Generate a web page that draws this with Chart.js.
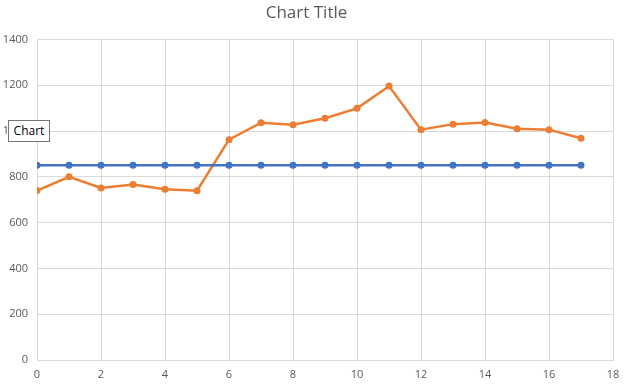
<!DOCTYPE html>
<html>
<head>
<meta charset="utf-8">
<script src="https://cdn.jsdelivr.net/npm/chart.js@4.4.1/dist/chart.umd.min.js"></script>
<style>
  html, body { margin: 0; padding: 0; background: #fff; }
  #wrap { position: relative; width: 630px; height: 390px; }
  #label {
    position: absolute; left: 8px; top: 120px;
    width: 40px; height: 20px; line-height: 20px;
    border: 1px solid #767676; background: #fff;
    font-family: "Open Sans", sans-serif; font-size: 12px; color: #000;
    text-align: center;
  }
</style>
</head>
<body>
<div id="wrap">
  <canvas id="chart" width="630" height="390"></canvas>
  <div id="label">Chart</div>
</div>
<script>
// ===== DATA =====
const xValues = [0, 1, 2, 3, 4, 5, 6, 7, 8, 9, 10, 11, 12, 13, 14, 15, 16, 17];
const blueValues = [850, 850, 850, 850, 850, 850, 850, 850, 850, 850, 850, 850, 850, 850, 850, 850, 850, 850];
const orangeValues = [740, 800, 751, 766, 746, 739, 962, 1036, 1027, 1056, 1099, 1196, 1006, 1030, 1037, 1010, 1006, 968];
const xTicks = [0, 2, 4, 6, 8, 10, 12, 14, 16, 18];
const yTicks = [0, 200, 400, 600, 800, 1000, 1200, 1400];

const toPoints = vals => vals.map((v, i) => ({ x: xValues[i], y: v }));

const gridColor = "#d9d9d9";
const tickColor = "#595959";

new Chart(document.getElementById("chart"), {
    type: "scatter",
    data: {
        datasets: [
            {
                label: "Series1",
                data: toPoints(blueValues),
                showLine: true,
                borderColor: "#4472c4",
                backgroundColor: "#4472c4",
                borderWidth: 2.5,
                pointRadius: 3.5,
                pointBorderWidth: 0
            },
            {
                label: "Series2",
                data: toPoints(orangeValues),
                showLine: true,
                borderColor: "#ed7d31",
                backgroundColor: "#ed7d31",
                borderWidth: 2.5,
                pointRadius: 3.5,
                pointBorderWidth: 0
            }
        ]
    },
    options: {
        responsive: false,
        animation: false,
        layout: { padding: { left: 0, right: 17, top: 0, bottom: 0 } },
        plugins: {
            legend: { display: false },
            tooltip: { enabled: false },
            title: {
                display: true,
                text: "Chart Title",
                color: tickColor,
                font: { family: "Open Sans", size: 17, weight: "normal" },
                padding: { top: 3, bottom: 16 }
            }
        },
        scales: {
            x: {
                type: "linear",
                min: 0,
                max: 18,
                afterBuildTicks: axis => { axis.ticks = xTicks.map(v => ({ value: v })); },
                afterFit: axis => { axis.height = 30; },
                grid: { color: gridColor, drawTicks: false },
                border: { color: gridColor },
                ticks: { color: tickColor, padding: 8, font: { family: "Open Sans", size: 11 },
                         callback: v => String(v) }
            },
            y: {
                min: 0,
                max: 1400,
                afterBuildTicks: axis => { axis.ticks = yTicks.map(v => ({ value: v })); },
                afterFit: axis => { axis.width = 37; },
                grid: { color: gridColor, drawTicks: false },
                border: { display: false },
                ticks: { color: tickColor, padding: 9, font: { family: "Open Sans", size: 11 },
                         callback: v => String(v) }
            }
        }
    }
});
</script>
</body>
</html>
